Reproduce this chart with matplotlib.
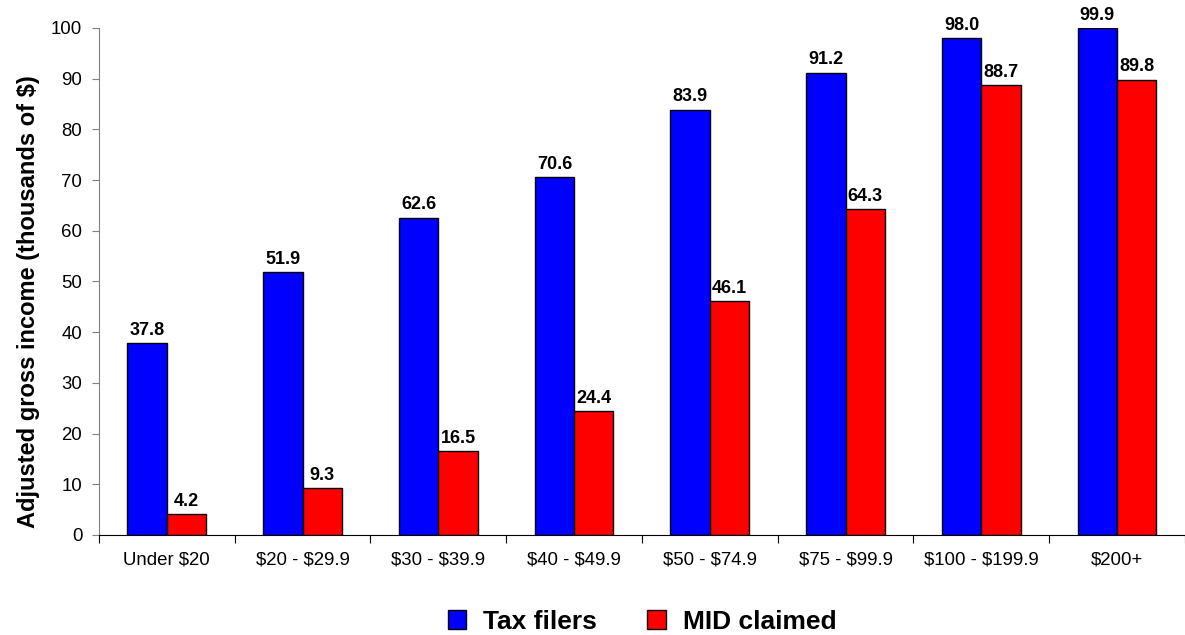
import numpy as np
from matplotlib import pyplot as plt
from matplotlib.ticker import FixedLocator, NullFormatter

categories = ["Under $20", "$20 - $29.9", "$30 - $39.9", "$40 - $49.9",
              "$50 - $74.9", "$75 - $99.9", "$100 - $199.9", "$200+"]
tax_filers = [37.8, 51.9, 62.6, 70.6, 83.9, 91.2, 98.0, 99.9]
mid_claimed = [4.2, 9.3, 16.5, 24.4, 46.1, 64.3, 88.7, 89.8]

plt.rcParams["font.family"] = ["Liberation Sans", "DejaVu Sans"]
plt.rcParams["text.parse_math"] = False  # dollar signs are literal here

fig = plt.figure(figsize=(11.85, 6.35), dpi=100)
ax = fig.add_axes([0.0835, 0.1575, 0.9165, 0.7985])

x = np.arange(len(categories))
w = 0.29
b1 = ax.bar(x - w / 2, tax_filers, w, color="#0000ff", edgecolor="black",
            linewidth=1, label="Tax filers")
b2 = ax.bar(x + w / 2, mid_claimed, w, color="#ff0000", edgecolor="black",
            linewidth=1, label="MID claimed")

for bars, vals in ((b1, tax_filers), (b2, mid_claimed)):
    for bar, v in zip(bars, vals):
        ax.annotate(f"{v:.1f}", (bar.get_x() + bar.get_width() / 2, v),
                    xytext=(0, 3), textcoords="offset points",
                    ha="center", va="bottom", fontsize=13, fontweight="bold")

ax.set_xlim(-0.5, len(categories) - 0.5)
ax.set_ylim(0, 100)
ax.set_yticks(range(0, 101, 10))
ax.tick_params(axis="y", labelsize=13.4, length=5, color="#808080", pad=7)

# group boundaries get the tick marks, labels sit in the middle
ax.xaxis.set_major_locator(FixedLocator(np.arange(-0.5, len(categories), 1.0)))
ax.xaxis.set_major_formatter(NullFormatter())
ax.xaxis.set_minor_locator(FixedLocator(x))
ax.set_xticklabels(categories, minor=True)
ax.tick_params(axis="x", which="major", length=6, color="black")
ax.tick_params(axis="x", which="minor", length=0, labelsize=13.4, pad=12)

ax.spines["top"].set_visible(False)
ax.spines["right"].set_visible(False)
ax.spines["left"].set_color("#808080")
ax.spines["bottom"].set_color("black")

ax.set_ylabel("Adjusted gross income (thousands of $)", fontsize=17,
              fontweight="bold", labelpad=8)
ax.yaxis.label.set_y(0.46)

leg = fig.legend(handles=[b1, b2], loc="center", bbox_to_anchor=(0.542, 0.021),
                 ncol=2, frameon=False, prop={"size": 19, "weight": "bold"},
                 handlelength=0.69, handleheight=0.69, columnspacing=1.9,
                 handletextpad=0.65)

fig.savefig("out.png", dpi=100)
